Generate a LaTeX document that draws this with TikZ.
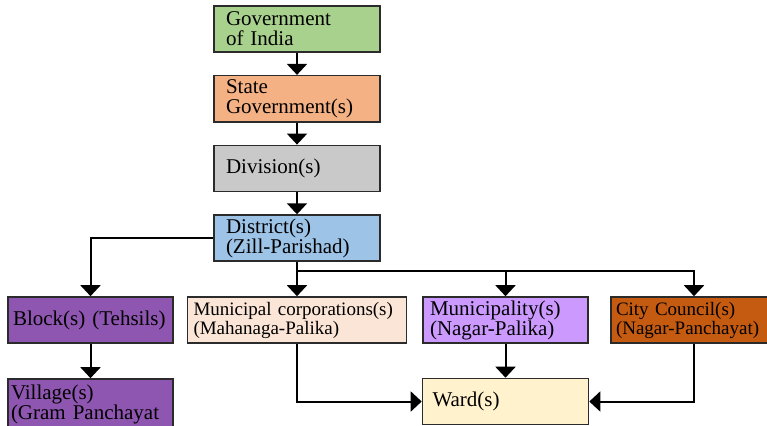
\documentclass[tikz,border=0pt]{standalone}
\usepackage{fontspec}
\setmainfont{Liberation Serif}
\usetikzlibrary{arrows.meta,positioning}

\definecolor{govgreen}{HTML}{A9D18E}
\definecolor{stateorange}{HTML}{F4B183}
\definecolor{divgray}{HTML}{C9C9C9}
\definecolor{distblue}{HTML}{9DC3E6}
\definecolor{blockpurple}{HTML}{8E56B0}
\definecolor{corppeach}{HTML}{FBE5D6}
\definecolor{palilavender}{HTML}{CC99FF}
\definecolor{councilbrown}{HTML}{C55A11}
\definecolor{wardcream}{HTML}{FFF2CC}
\definecolor{boxline}{HTML}{2B2B2B}

\tikzset{
  unit/.style={draw=boxline, line width=1.6pt, align=left, inner ysep=0pt,
    minimum height=46pt, font=\fontsize{21}{20}\selectfont},
  topbox/.style={unit, text width=142pt, inner xsep=12pt},
  small/.style={font=\fontsize{19}{19}\selectfont},
  link/.style={line width=2pt, -{Triangle[width=20pt,length=11pt]}}
}

\begin{document}
\begin{tikzpicture}[x=1pt,y=-1pt,node distance=69.7pt,on grid]
  \useasboundingbox (0,0) rectangle (767,425);

  % central column
  \node[topbox,fill=govgreen] (gov) at (297,29) {Government\\of India};
  \node[topbox,fill=stateorange] (state) [below=of gov] {State\\Government(s)};
  \node[topbox,fill=divgray] (div) [below=of state] {Division(s)};
  \node[topbox,fill=distblue] (dist) [below=of div] {District(s)\\(Zill-Parishad)};

  % lower levels
  \node[unit,fill=blockpurple,text width=155pt,inner xsep=5pt] (block) at (90.5,320) {Block(s) (Tehsils)};
  \node[unit,fill=blockpurple,text width=159pt,inner xsep=3pt,minimum height=50pt] (village) at (90.5,404) {Village(s)\\(Gram Panchayat};
  \node[unit,small,fill=corppeach,text width=207pt,inner xsep=6pt] (mcorp) at (297,320) {Municipal corporations(s)\\(Mahanaga-Palika)};
  \node[unit,fill=palilavender,text width=151pt,inner xsep=7pt] (mpal) at (505.5,320) {Municipality(s)\\(Nagar-Palika)};
  \node[unit,small,fill=councilbrown,text width=156pt,inner xsep=5pt] (council) at (694,320) {City Council(s)\\(Nagar-Panchayat)};
  \node[unit,fill=wardcream,text width=146pt,inner xsep=10pt] (ward) at (505.5,401.5) {Ward(s)};

  \coordinate (fork) at (297,271);

  \draw[link] (gov) -- (state);
  \draw[link] (state) -- (div);
  \draw[link] (div) -- (dist);
  \draw[link] (dist.west) -| (block.north);
  \draw[link] (block) -- (village);
  \draw[link] (dist.south) -- (mcorp.north);
  \draw[link] (fork) -| (council.north);
  \draw[link] (fork -| mpal.north) -- (mpal.north);
  \draw[link] (mpal) -- (ward);
  \draw[link] (mcorp.south) |- (ward.west);
  \draw[link] (council.south) |- (ward.east);
\end{tikzpicture}
\end{document}
